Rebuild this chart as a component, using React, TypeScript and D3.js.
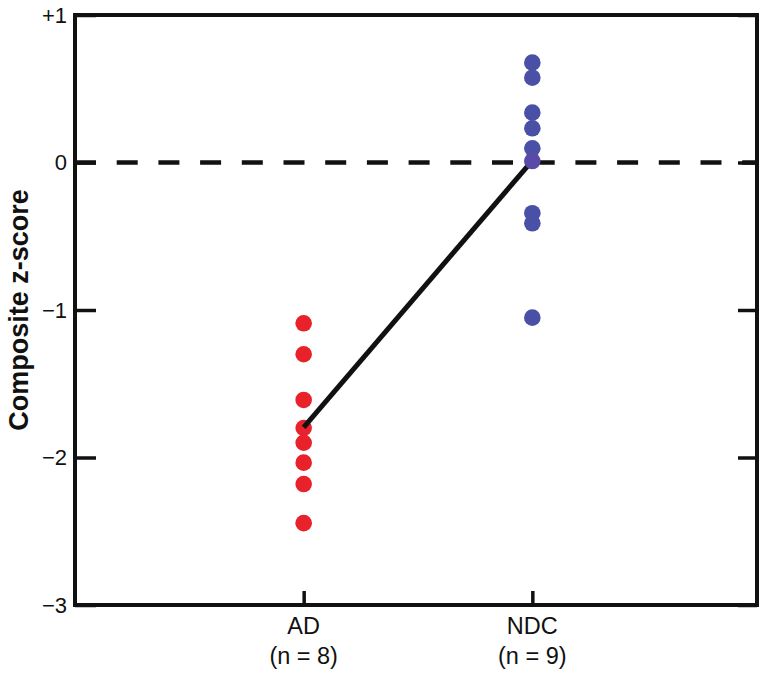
import { useEffect, useRef } from 'react';
import * as d3 from 'd3';

const groups = ['AD', 'NDC'];
const groupCounts = ['(n = 8)', '(n = 9)'];
const adScores = [-1.09, -1.3, -1.61, -1.8, -1.9, -2.035, -2.18, -2.445];
const ndcScores = [0.677, 0.575, 0.338, 0.232, 0.096, 0.01, -0.344, -0.412, -1.052];
const yTicks = [1, 0, -1, -2, -3];
const yTickLabels = ['+1', '0', '\u22121', '\u22122', '\u22123'];

const width = 772;
const height = 678;
const FONT = '"Liberation Sans", Arial, Helvetica, sans-serif';

export default function App() {
  const svgRef = useRef<SVGSVGElement>(null);

  useEffect(() => {
    if (!svgRef.current) return;
    const svg = d3.select(svgRef.current);
    svg.selectAll('*').remove();

    const left = 75, right = 757, top = 15, bottom = 605;

    const x = d3.scaleLinear().domain([0, 3]).range([left, right + 4]);
    const y = d3.scaleLinear().domain([-3, 1]).range([bottom, top]);

    const series = [
      { name: groups[0], values: adScores, color: '#e8212b' },
      { name: groups[1], values: ndcScores, color: '#4a50a5' },
    ];
    const gx = (i: number) => x(i + 1);

    // zero reference line
    svg.append('line')
      .attr('x1', left).attr('x2', right)
      .attr('y1', y(0)).attr('y2', y(0))
      .attr('stroke', '#111').attr('stroke-width', 4.5)
      .attr('stroke-dasharray', '21,20.7');

    // left axis ticks
    const yAxisL = svg.append('g').attr('transform', `translate(${left},0)`);
    yAxisL.call(d3.axisRight(y).tickValues(yTicks).tickSize(21).tickFormat(() => ''));
    yAxisL.select('.domain').remove();
    yAxisL.selectAll('line').attr('stroke', '#111').attr('stroke-width', 3.5);

    // right axis ticks
    const yAxisR = svg.append('g').attr('transform', `translate(${right},0)`);
    yAxisR.call(d3.axisLeft(y).tickValues(yTicks).tickSize(19).tickFormat(() => ''));
    yAxisR.select('.domain').remove();
    yAxisR.selectAll('line').attr('stroke', '#111').attr('stroke-width', 3.5);

    svg.append('g').selectAll('text')
      .data(yTicks)
      .join('text')
      .attr('x', left - 8)
      .attr('y', d => y(d))
      .attr('dy', '0.36em')
      .attr('text-anchor', 'end')
      .style('font-family', FONT)
      .style('font-size', '22px')
      .style('fill', '#111')
      .text((d, i) => yTickLabels[i]);

    // bottom ticks
    const xAxis = svg.append('g').attr('transform', `translate(0,${bottom})`);
    xAxis.call(d3.axisTop(x).tickValues([1, 2]).tickSize(14).tickFormat(() => ''));
    xAxis.select('.domain').remove();
    xAxis.selectAll('line').attr('stroke', '#111').attr('stroke-width', 3.5);

    const labels = svg.append('g');
    groups.forEach((g, i) => {
      const t = labels.append('text')
        .attr('x', gx(i))
        .attr('text-anchor', 'middle')
        .style('font-family', FONT)
        .style('font-size', '23.5px')
        .style('fill', '#111');
      t.append('tspan').attr('x', gx(i)).attr('y', 634).text(g);
      t.append('tspan').attr('x', gx(i)).attr('y', 664).text(groupCounts[i]);
    });

    // y title
    svg.append('text')
      .attr('transform', `translate(28,${(top + bottom) / 2}) rotate(-90)`)
      .attr('text-anchor', 'middle')
      .style('font-family', FONT)
      .style('font-size', '27px')
      .style('font-weight', 'bold')
      .style('fill', '#111')
      .text('Composite z-score');

    // red dots
    svg.append('g').selectAll('circle')
      .data(series[0].values)
      .join('circle')
      .attr('cx', gx(0))
      .attr('cy', d => y(d))
      .attr('r', 8.3)
      .attr('fill', series[0].color);

    // mean line
    const means = series.map((s, i) => [gx(i), y(d3.mean(s.values) || 0)] as [number, number]);
    svg.append('path')
      .attr('d', d3.line()(means))
      .attr('stroke', '#111')
      .attr('stroke-width', 5)
      .attr('fill', 'none');

    // blue dots
    const ndcMean = d3.mean(series[1].values) || 0;
    const closest = d3.minIndex(series[1].values, v => Math.abs(v - ndcMean));
    svg.append('g').selectAll('circle')
      .data(series[1].values)
      .join('circle')
      .attr('cx', gx(1))
      .attr('cy', d => y(d))
      .attr('r', 8.3)
      .attr('fill', (d, i) => (i === closest ? '#5a4aa8' : series[1].color));

    // frame
    svg.append('path')
      .attr('d', `M${left},${top}H${right}V${bottom}H${left}Z`)
      .attr('fill', 'none')
      .attr('stroke', '#111')
      .attr('stroke-width', 4);
  }, []);

  return (
    <svg
      ref={svgRef}
      width={width}
      height={height}
      style={{ position: 'absolute', left: 0, top: 0, background: '#fff' }}
    />
  );
}
